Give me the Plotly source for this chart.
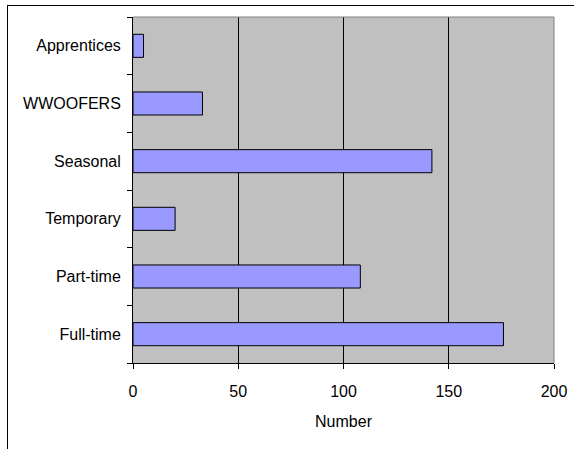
import plotly.graph_objects as go

# Workers on the farm, by type
categories = ["Full-time", "Part-time", "Temporary", "Seasonal", "WWOOFERS", "Apprentices"]
counts = [176, 108, 20, 142, 33, 5]
x_ticks = [0, 50, 100, 150, 200]

W, H = 574, 449
L, R, T, B = 133, 20, 17, 86
pw, ph = W - L - R, H - T - B

def px_to_paper_x(px):
    return (px - L) / pw

def px_to_paper_y(py):
    return (H - B - py) / ph

fig = go.Figure(
    go.Bar(
        x=counts,
        y=categories,
        orientation="h",
        width=0.4,
        marker=dict(color="#9999FF", line=dict(color="#000000", width=1)),
        hoverinfo="x+y",
    )
)

font = dict(family="Liberation Sans, Arial, sans-serif", size=16, color="#000000")

fig.update_layout(
    width=W,
    height=H,
    autosize=False,
    margin=dict(l=L, r=R, t=T, b=B, pad=0, autoexpand=False),
    paper_bgcolor="#FFFFFF",
    plot_bgcolor="#C0C0C0",
    font=font,
    showlegend=False,
    bargap=0.6,
    xaxis=dict(
        range=[0, 200],
        tickvals=x_ticks,
        ticktext=[str(v) for v in x_ticks],
        showgrid=True,
        gridcolor="#000000",
        gridwidth=1,
        zeroline=False,
        showline=True,
        linecolor="#000000",
        linewidth=1,
        ticks="outside",
        ticklen=5,
        tickcolor="#000000",
        ticklabelstandoff=9,
        automargin=False,
        title=dict(text="Number", standoff=16, font=font),
        fixedrange=True,
    ),
    yaxis=dict(
        type="category",
        categoryorder="array",
        categoryarray=categories,
        showgrid=False,
        zeroline=False,
        showline=True,
        linecolor="#000000",
        linewidth=1,
        ticks="outside",
        tickson="boundaries",
        ticklen=5,
        tickcolor="#000000",
        ticklabelstandoff=8,
        automargin=False,
        fixedrange=True,
    ),
    shapes=[
        # grey border on the top and right of the plot area
        dict(type="line", xref="paper", yref="paper", x0=0, x1=1, y0=1, y1=1,
             line=dict(color="#808080", width=1), layer="above"),
        dict(type="line", xref="paper", yref="paper", x0=1, x1=1, y0=0, y1=1,
             line=dict(color="#808080", width=1), layer="above"),
        # outer chart frame
        dict(type="line", xref="paper", yref="paper",
             x0=px_to_paper_x(7), x1=px_to_paper_x(580),
             y0=px_to_paper_y(5.5), y1=px_to_paper_y(5.5),
             line=dict(color="#000000", width=1)),
        dict(type="line", xref="paper", yref="paper",
             x0=px_to_paper_x(7.5), x1=px_to_paper_x(7.5),
             y0=px_to_paper_y(5), y1=px_to_paper_y(460),
             line=dict(color="#000000", width=1)),
    ],
)

fig.write_html("out.html")
